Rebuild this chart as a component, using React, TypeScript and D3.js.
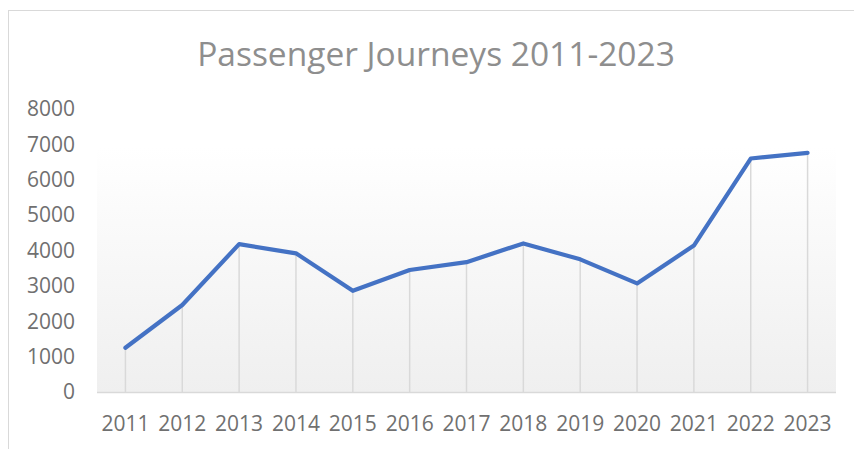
import React from "react";
import * as d3 from "d3";

// chart data
const years = ["2011", "2012", "2013", "2014", "2015", "2016", "2017", "2018", "2019", "2020", "2021", "2022", "2023"];
const journeys = [1250, 2460, 4180, 3920, 2860, 3450, 3670, 4200, 3750, 3070, 4140, 6600, 6760];
const yTicks = [0, 1000, 2000, 3000, 4000, 5000, 6000, 7000, 8000];
const title = "Passenger Journeys 2011-2023";

const W = 854, H = 449;
const plot = { left: 97, right: 836, top: 109, bottom: 392, bgTop: 147 };

export default function App() {
  const x = d3.scaleBand().domain(years).range([plot.left, plot.right]);
  const y = d3.scaleLinear().domain([0, 8000]).range([plot.bottom, plot.top]);
  const cx = (d: string) => (x(d) as number) + x.bandwidth() / 2;

  const line = d3
    .line<number>()
    .x((_, i) => cx(years[i]))
    .y((d) => y(d));

  const font = "'Open Sans', sans-serif";

  return (
    <svg width={W} height={H} style={{ position: "fixed", left: 0, top: 0, background: "#fff" }}>
      <defs>
        <linearGradient id="bg" x1="0" y1="0" x2="0" y2="1">
          <stop offset="0" stopColor="#ffffff" />
          <stop offset="1" stopColor="#efefef" />
        </linearGradient>
      </defs>
      {/* chart border */}
      <rect x={8.5} y={10.5} width={900} height={500} fill="#fff" stroke="#d9d9d9" />

      <text x={436} y={66} textAnchor="middle" fontFamily={font} fontSize={33.5} fill="#8e8e8e">
        {title}
      </text>

      {/* plot background */}
      <rect x={plot.left} y={plot.bgTop} width={plot.right - plot.left} height={plot.bottom - plot.bgTop} fill="url(#bg)" />

      {/* y labels */}
      {yTicks.map((t) => (
        <text key={t} x={75} y={y(t)} dy="0.35em" textAnchor="end" fontFamily={font} fontSize={21} fill="#707070">
          {t}
        </text>
      ))}

      {/* x axis */}
      <line x1={plot.left} x2={plot.right} y1={plot.bottom + 0.5} y2={plot.bottom + 0.5} stroke="#d9d9d9" strokeWidth={1.5} />
      {years.map((yr) => (
        <text key={yr} x={cx(yr)} y={431} textAnchor="middle" fontFamily={font} fontSize={21} fill="#707070">
          {yr}
        </text>
      ))}

      {/* drop lines */}
      {journeys.map((v, i) => (
        <line key={i} x1={cx(years[i])} x2={cx(years[i])} y1={y(v)} y2={plot.bottom} stroke="#d9d9d9" strokeWidth={1.5} />
      ))}

      <path d={line(journeys) || ""} fill="none" stroke="#4472c4" strokeWidth={4.2} strokeLinejoin="round" strokeLinecap="round" />
    </svg>
  );
}
